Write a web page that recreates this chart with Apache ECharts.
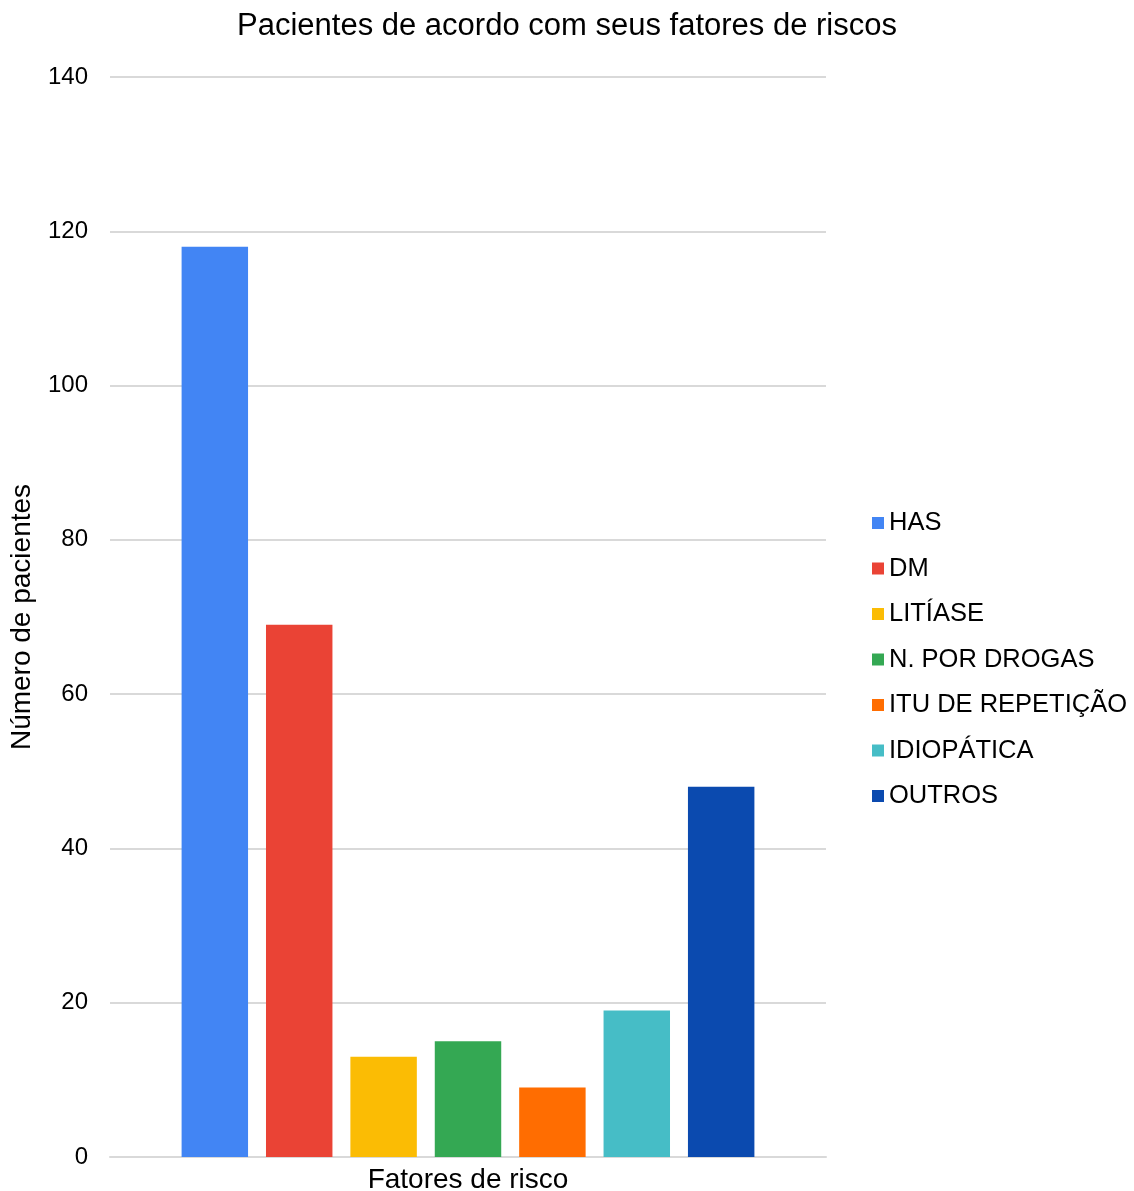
<!DOCTYPE html>
<html>
<head>
<meta charset="utf-8">
<script src="https://cdn.jsdelivr.net/npm/echarts@6/dist/echarts.min.js"></script>
<style>
  html, body { margin: 0; padding: 0; background: #fff; }
  #chart { width: 1134px; height: 1191px; }
</style>
</head>
<body>
<div id="chart"></div>
<script>
// dados do gráfico
var categorias = [''];
var fatores = ['HAS', 'DM', 'LITÍASE', 'N. POR DROGAS', 'ITU DE REPETIÇÃO', 'IDIOPÁTICA', 'OUTROS'];
var pacientes = [118, 69, 13, 15, 9, 19, 48];
var cores = ['#4285f4', '#ea4335', '#fbbc04', '#34a853', '#ff6d01', '#46bdc6', '#0b4aaf'];
var ticksY = [0, 20, 40, 60, 80, 100, 120, 140];

var fonte = '"Liberation Sans", Arial, sans-serif';

var series = fatores.map(function (nome, i) {
    return {
        name: nome,
        type: 'bar',
        data: [pacientes[i]],
        itemStyle: { color: cores[i] },
        barGap: '27%',
        barCategoryGap: '20%'
    };
});

var myChart = echarts.init(document.getElementById('chart'));
var option = {
    animation: false,
    color: cores,
    title: {
        text: 'Pacientes de acordo com seus fatores de riscos',
        left: 'center',
        top: 6,
        textStyle: {
            color: '#000',
            fontFamily: fonte,
            fontWeight: 'normal',
            fontSize: 31
        }
    },
    legend: {
        orient: 'vertical',
        left: 867,
        top: 505,
        itemWidth: 12,
        itemHeight: 12,
        itemGap: 19.5,
        icon: 'rect',
        textStyle: {
            color: '#000',
            fontFamily: fonte,
            fontSize: 25.5,
            lineHeight: 26,
            padding: [0, 0, 0, 0]
        },
        data: fatores
    },
    grid: {
        left: 110,
        right: 308,
        top: 77,
        bottom: 34,
        containLabel: false,
        outerBoundsMode: 'none'
    },
    xAxis: {
        type: 'category',
        data: categorias,
        name: 'Fatores de risco',
        nameLocation: 'middle',
        nameGap: 9,
        nameTextStyle: {
            color: '#000',
            fontFamily: fonte,
            fontSize: 28,
            verticalAlign: 'top'
        },
        axisLine: { lineStyle: { color: '#d9d9d9', width: 2 } },
        axisTick: { show: false },
        axisLabel: { show: false }
    },
    yAxis: {
        type: 'value',
        min: ticksY[0],
        max: ticksY[ticksY.length - 1],
        interval: 20,
        name: 'Número de pacientes',
        nameLocation: 'middle',
        nameGap: 74,
        nameTextStyle: {
            color: '#000',
            fontFamily: fonte,
            fontSize: 28
        },
        axisLine: { show: false },
        axisTick: { show: false },
        axisLabel: {
            color: '#000',
            fontFamily: fonte,
            fontSize: 24,
            margin: 22
        },
        splitLine: { lineStyle: { color: '#d9d9d9', width: 2 } }
    },
    series: series
};
myChart.setOption(option);
</script>
</body>
</html>
